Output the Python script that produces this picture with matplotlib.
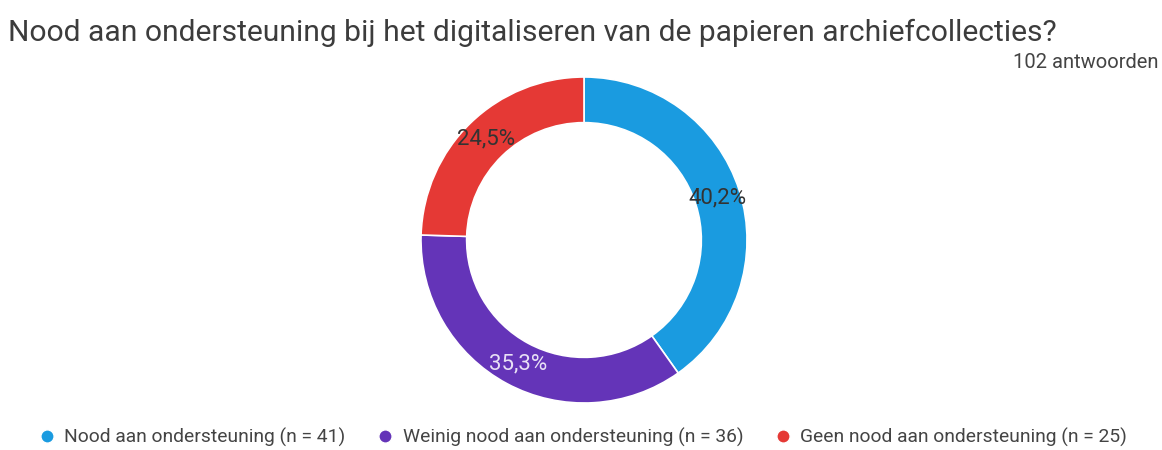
import matplotlib.pyplot as plt
from matplotlib.lines import Line2D
import numpy as np

# data
labels = ["Nood aan ondersteuning", "Weinig nood aan ondersteuning", "Geen nood aan ondersteuning"]
counts = [41, 36, 25]
pct_labels = ["40,2%", "35,3%", "24,5%"]
colors = ["#1a9be0", "#6434b8", "#e53935"]
pct_colors = ["#333333", "#e8e0f5", "#333333"]
title = "Nood aan ondersteuning bij het digitaliseren van de papieren archiefcollecties?"
total_label = "102 antwoorden"

plt.rcParams['font.family'] = ['Roboto', 'DejaVu Sans']

fig = plt.figure(figsize=(11.62, 4.5), dpi=100)
fig.patch.set_facecolor("white")

# pie axes: center ~ (584, 240) px, radius 163 px
ax = fig.add_axes([(584 - 163) / 1162, (450 - 403) / 450, 326 / 1162, 326 / 450])
wedges, _ = ax.pie(counts, colors=colors, startangle=90, counterclock=False,
                   wedgeprops=dict(width=0.28, edgecolor="white", linewidth=1.2),
                   radius=1.0)
ax.set_xlim(-1, 1)
ax.set_ylim(-1, 1)
ax.set_aspect("equal")
ax.axis("off")

# percentage labels at middle of the ring
start = 90.0
tot = sum(counts)
for c, lab, col in zip(counts, pct_labels, pct_colors):
    span = 360.0 * c / tot
    mid = np.deg2rad(start - span / 2)
    r = 0.86
    ax.text(r * np.cos(mid), r * np.sin(mid), lab, ha="center", va="center",
            fontsize=16, color=col)
    start -= span

fig.text(8 / 1162, 1 - 33 / 450, title, ha="left", va="center", fontsize=21.6, color="#3c3c3c")
fig.text(1013 / 1162, 1 - 62 / 450, total_label, ha="left", va="center", fontsize=14.5, color="#444444")

handles = [Line2D([0], [0], marker="o", color="w", markerfacecolor=col, markersize=9.5)
           for col in colors]
leg_labels = [f"{l} (n = {n})" for l, n in zip(labels, counts)]
fig.legend(handles, leg_labels, loc="center", bbox_to_anchor=(0.501, 1 - 437 / 450), ncol=3,
           frameon=False, fontsize=13.9, handletextpad=0.4, columnspacing=1.55,
           labelcolor="#444444", handlelength=1.0)

fig.savefig("out.png", dpi=100)
